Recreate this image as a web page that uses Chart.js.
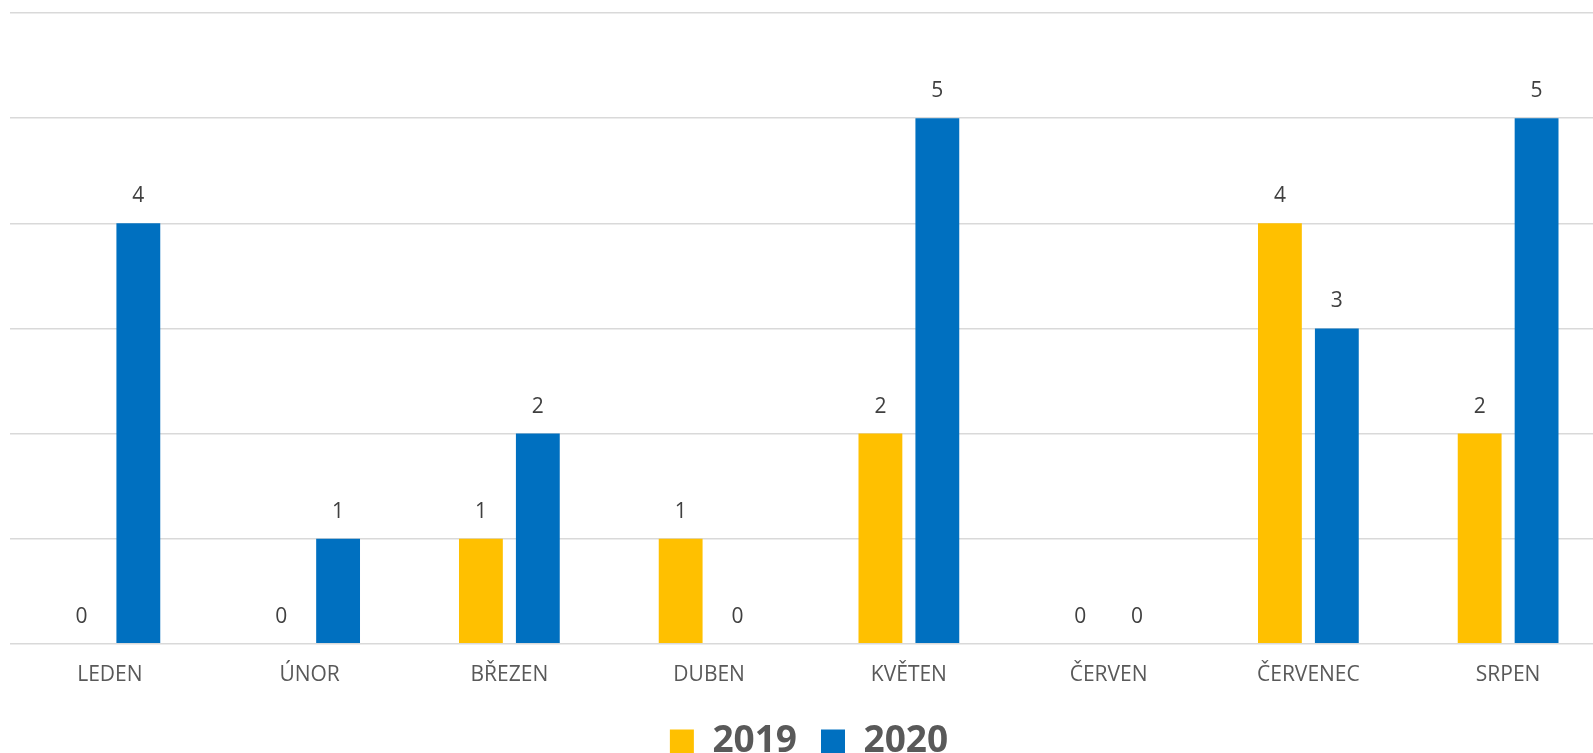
<!DOCTYPE html>
<html>
<head>
<meta charset="utf-8">
<script src="https://cdn.jsdelivr.net/npm/chart.js@4/dist/chart.umd.min.js"></script>
<style>
  html, body { margin: 0; padding: 0; background: #fff; overflow: hidden; }
  #wrap { width: 1593px; height: 753px; overflow: hidden; }
  canvas { display: block; }
</style>
</head>
<body>
<div id="wrap"><canvas id="graf" width="1620" height="770"></canvas></div>
<script>
// data
var mesice = ["LEDEN", "ÚNOR", "BŘEZEN", "DUBEN", "KVĚTEN", "ČERVEN", "ČERVENEC", "SRPEN"];
var hodnoty2019 = [0, 0, 1, 1, 2, 0, 4, 2];
var hodnoty2020 = [4, 1, 2, 0, 5, 0, 3, 5];

// popisky nad sloupci
var popisky = {
  id: "popisky",
  afterDatasetsDraw: function(chart) {
    var ctx = chart.ctx;
    ctx.save();
    ctx.font = "21px 'Open Sans'";
    ctx.fillStyle = "#404040";
    ctx.textAlign = "center";
    ctx.textBaseline = "middle";
    chart.data.datasets.forEach(function(ds, i) {
      chart.getDatasetMeta(i).data.forEach(function(bar, j) {
        ctx.fillText(ds.data[j], bar.x, bar.y - 27);
      });
    });
    ctx.restore();
  }
};

new Chart(document.getElementById("graf"), {
  type: "bar",
  data: {
    labels: mesice,
    datasets: [{
      label: "2019",
      data: hodnoty2019,
      backgroundColor: "#FFC000",
      categoryPercentage: 0.57,
      barPercentage: 0.77
    }, {
      label: "2020",
      data: hodnoty2020,
      backgroundColor: "#0070C0",
      categoryPercentage: 0.57,
      barPercentage: 0.77
    }]
  },
  options: {
    responsive: false,
    devicePixelRatio: 1,
    animation: false,
    layout: { padding: { left: 10, right: 12, top: 13, bottom: 0 } },
    plugins: {
      tooltip: { enabled: false },
      legend: {
        position: "bottom",
        labels: {
          boxWidth: 24,
          boxHeight: 24,
          padding: 24,
          color: "#595959",
          font: { family: "'Open Sans'", size: 37, weight: "bold", lineHeight: 1 }
        }
      }
    },
    scales: {
      x: {
        grid: { display: false },
        border: { display: false },
        ticks: {
          color: "#595959",
          padding: 11,
          font: { family: "'Open Sans'", size: 21 }
        }
      },
      y: {
        min: 0,
        max: 6,
        ticks: { display: false, stepSize: 1 },
        border: { display: false },
        grid: { color: "#d9d9d9", lineWidth: 1.5, drawTicks: false }
      }
    }
  },
  plugins: [popisky]
});
</script>
</body>
</html>
